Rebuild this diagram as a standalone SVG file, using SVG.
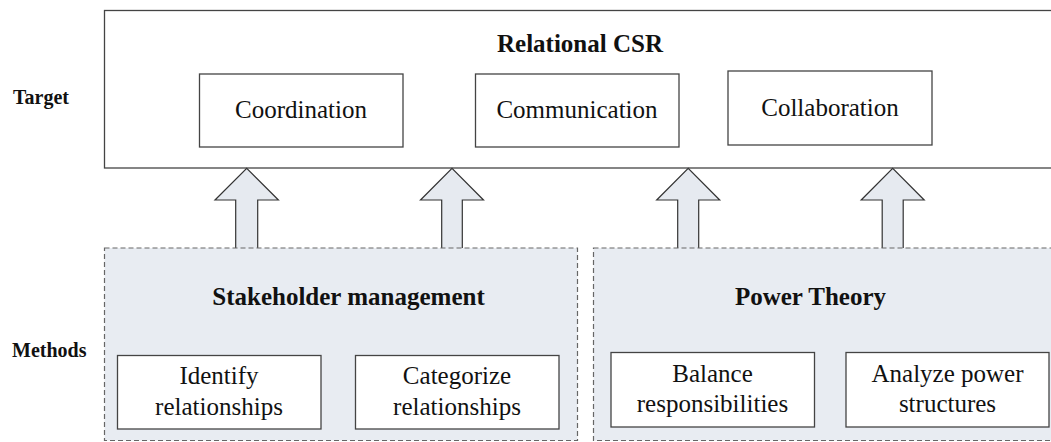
<svg xmlns="http://www.w3.org/2000/svg" width="1051" height="442" viewBox="0 0 1051 442">
<style>
.bg{fill:#ffffff}
.box{fill:#ffffff;stroke:#444;stroke-width:1.3}
.grp{fill:#e8ecf2;stroke:#666;stroke-width:1.2;stroke-dasharray:5,3}
.arrow{fill:#e6eaf0;stroke:#333;stroke-width:1.2;stroke-linejoin:miter}
.t{font-size:25px;fill:#111;text-anchor:middle}
.b{font-weight:bold}
.lab{font-size:20px;font-weight:bold;fill:#111}
</style>
<rect class="bg" x="0" y="0" width="1051" height="442"/>
<text class="lab" font-family="Liberation Serif" x="13" y="104">Target</text>
<text class="lab" font-family="Liberation Serif" x="12" y="357">Methods</text>
<g id="target">
<rect class="box" x="104.5" y="10.5" width="960" height="157.5" stroke="#333"/>
<text class="t b" font-family="Liberation Serif" x="580" y="52">Relational CSR</text>
</g>
<g id="coordination">
<rect class="box" x="199.5" y="74" width="203.5" height="73"/>
<text class="t" font-family="Liberation Serif" x="301" y="118">Coordination</text>
</g>
<g id="communication">
<rect class="box" x="475.5" y="74" width="203.5" height="73"/>
<text class="t" font-family="Liberation Serif" x="577" y="118">Communication</text>
</g>
<g id="collaboration">
<rect class="box" x="728" y="71" width="204" height="74"/>
<text class="t" font-family="Liberation Serif" x="830" y="116">Collaboration</text>
</g>
<g id="connectors">
<path class="arrow" d="M235.7,248 V200 H215 L246.7,168.3 L278.4,200 H257.7 V248"/>
<path class="arrow" d="M441.7,248 V200 H420.5 L452,168.3 L483.5,200 H462.3 V248"/>
<path class="arrow" d="M677.7,248 V200 H656.7 L688.2,168.3 L719.7,200 H698.7 V248"/>
<path class="arrow" d="M882.2,248 V200 H861.2 L892.7,168.3 L924.2,200 H903.2 V248"/>
</g>
<g id="stakeholder">
<rect class="grp" x="104.5" y="248" width="473" height="192.5"/>
<text class="t b" font-family="Liberation Serif" x="348.5" y="305">Stakeholder management</text>
</g>
<g id="power">
<rect class="grp" x="593.5" y="248" width="480" height="192.5"/>
<text class="t b" font-family="Liberation Serif" x="810.5" y="305">Power Theory</text>
</g>
<g id="identify">
<rect class="box" x="117.5" y="355.5" width="203.5" height="73.5"/>
<text class="t" font-family="Liberation Serif" x="219" y="384">Identify</text>
<text class="t" font-family="Liberation Serif" x="219" y="415">relationships</text>
</g>
<g id="categorize">
<rect class="box" x="355.5" y="355.5" width="203.5" height="73.5"/>
<text class="t" font-family="Liberation Serif" x="457" y="384">Categorize</text>
<text class="t" font-family="Liberation Serif" x="457" y="415">relationships</text>
</g>
<g id="balance">
<rect class="box" x="611" y="352.5" width="203.5" height="74.5"/>
<text class="t" font-family="Liberation Serif" x="712.5" y="382">Balance</text>
<text class="t" font-family="Liberation Serif" x="712.5" y="412">responsibilities</text>
</g>
<g id="analyze">
<rect class="box" x="846" y="352.5" width="203" height="74.5"/>
<text class="t" font-family="Liberation Serif" x="947.5" y="382">Analyze power</text>
<text class="t" font-family="Liberation Serif" x="947.5" y="412">structures</text>
</g>
</svg>
